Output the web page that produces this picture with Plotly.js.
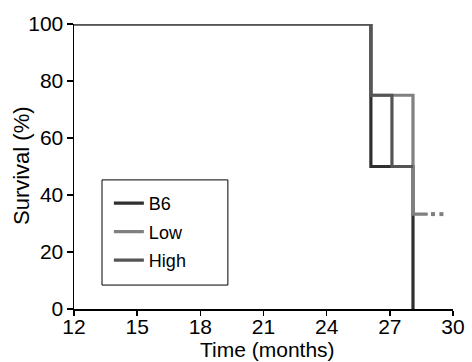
<!DOCTYPE html>
<html>
<head>
<meta charset="utf-8">
<script src="https://cdn.plot.ly/plotly-3.0.1.min.js"></script>
<style>html,body{margin:0;padding:0;background:#fff;}#chart{width:472px;height:362px;}</style>
</head>
<body>
<div id="chart"></div>
<script>
// Kaplan-Meier step data (time in months, survival %)
const seriesNames = ["B6", "Low", "High"];
const b6Time = [12, 26.1, 26.1, 28.1, 28.1];
const b6Surv = [100, 100, 50, 50, 0];
const lowTime = [12, 26.1, 26.1, 28.1, 28.1, 28.8];
const lowSurv = [100, 100, 75, 75, 33.3, 33.3];
const highTime = [12, 26.1, 26.1, 27.1, 27.1, 28.1];
const highSurv = [100, 100, 75, 75, 50, 50];
const censorTime = [29.05, 29.45];
const censorSurv = [33.3, 33.3];
const xTicks = [12, 15, 18, 21, 24, 27, 30];
const yTicks = [0, 20, 40, 60, 80, 100];

const colors = {B6: "#2f2f2f", Low: "#808080", High: "#555555"};
const font = "Arial, 'Liberation Sans', sans-serif";

function stepTrace(name, x, y, group) {
  return {
    type: "scatter", mode: "lines", name: name, x: x, y: y,
    line: {color: colors[name], width: 3.2, shape: "linear"},
    cliponaxis: false, legendgroup: group
  };
}

const data = [
  stepTrace("B6", b6Time, b6Surv, "g1"),
  stepTrace("Low", lowTime, lowSurv, "g2"),
  stepTrace("High", highTime, highSurv, "g3"),
  {type: "scatter", mode: "markers", x: censorTime, y: censorSurv, showlegend: false,
   marker: {symbol: "square", size: 4, color: colors.Low}, cliponaxis: false, hoverinfo: "skip"}
];

const layout = {
  width: 472, height: 362,
  margin: {l: 74, r: 19, t: 24, b: 53},
  paper_bgcolor: "#fff", plot_bgcolor: "#fff",
  font: {family: font, color: "#000", size: 20},
  showlegend: true,
  legend: {
    x: 0.092, y: 0.435, xanchor: "left", yanchor: "top",
    borderwidth: 0, bgcolor: "rgba(0,0,0,0)",
    font: {family: font, size: 18, color: "#000"},
    tracegroupgap: 2
  },
  shapes: [
    {type: "rect", xref: "paper", yref: "paper", x0: 0.0739, x1: 0.406, y0: 0.084, y1: 0.453,
     line: {color: "#000", width: 1}, fillcolor: "rgba(0,0,0,0)", layer: "above"}
  ],
  xaxis: {
    range: [12, 30], tickvals: xTicks, ticktext: xTicks.map(String),
    showgrid: false, zeroline: false, showline: true, linecolor: "#000", linewidth: 1.5,
    ticks: "outside", ticklen: 5, tickwidth: 1.5, tickcolor: "#000",
    tickfont: {family: font, size: 21, color: "#000"}, ticklabelstandoff: -7
  },
  yaxis: {
    range: [0, 100], tickvals: yTicks, ticktext: yTicks.map(String),
    showgrid: false, zeroline: false, showline: true, linecolor: "#000", linewidth: 1.5,
    ticks: "outside", ticklen: 6, tickwidth: 1.5, tickcolor: "#000",
    tickfont: {family: font, size: 21, color: "#000"}, ticklabelstandoff: -1
  },
  annotations: [
    {text: "Time (months)", xref: "paper", yref: "paper", x: 0.51, y: -0.186,
     xanchor: "center", yanchor: "bottom", showarrow: false, borderpad: 0,
     font: {family: font, size: 21, color: "#000"}},
    {text: "Survival (%)", xref: "paper", yref: "paper", x: -0.14, y: 0.505,
     xanchor: "center", yanchor: "middle", textangle: -90, showarrow: false,
     font: {family: font, size: 22, color: "#000"}}
  ]
};

Plotly.newPlot("chart", data, layout, {displayModeBar: false, staticPlot: true});
</script>
</body>
</html>
